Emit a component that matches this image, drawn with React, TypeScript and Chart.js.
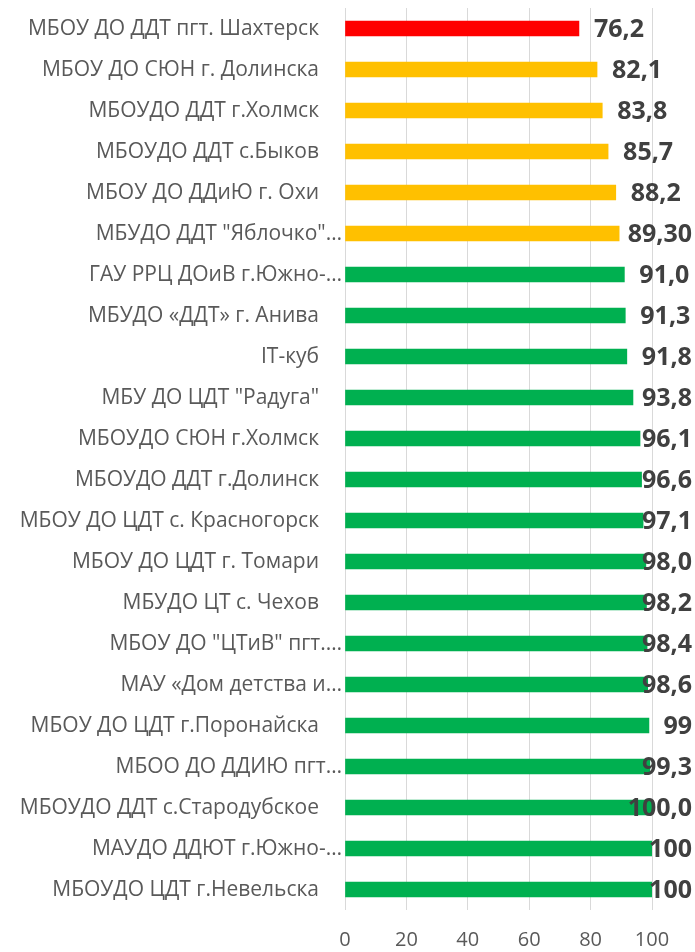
import React, { useEffect, useRef } from "react";
import { Chart, registerables } from "chart.js";

Chart.register(...registerables);

const categories: string[] = [
  "МБОУ ДО ДДТ пгт. Шахтерск",
  "МБОУ ДО СЮН г. Долинска",
  "МБОУДО ДДТ г.Холмск",
  "МБОУДО ДДТ с.Быков",
  "МБОУ ДО ДДиЮ г. Охи",
  "МБУДО ДДТ \"Яблочко\"…",
  "ГАУ РРЦ ДОиВ г.Южно-…",
  "МБУДО «ДДТ» г. Анива",
  "IT-куб",
  "МБУ ДО ЦДТ \"Радуга\"",
  "МБОУДО СЮН г.Холмск",
  "МБОУДО ДДТ г.Долинск",
  "МБОУ ДО ЦДТ с. Красногорск",
  "МБОУ ДО ЦДТ г. Томари",
  "МБУДО ЦТ с. Чехов",
  "МБОУ ДО \"ЦТиВ\" пгт.…",
  "МАУ «Дом детства и…",
  "МБОУ ДО ЦДТ г.Поронайска",
  "МБОО ДО ДДИЮ пгт…",
  "МБОУДО ДДТ с.Стародубское",
  "МАУДО ДДЮТ г.Южно-…",
  "МБОУДО ЦДТ г.Невельска",
];

const values: number[] = [
  76.2, 82.1, 83.8, 85.7, 88.2, 89.3, 91.0, 91.3, 91.8, 93.8, 96.1, 96.6, 97.1,
  98.0, 98.2, 98.4, 98.6, 99, 99.3, 100.0, 100, 100,
];

const valueLabels: string[] = [
  "76,2", "82,1", "83,8", "85,7", "88,2", "89,30", "91,0", "91,3", "91,8",
  "93,8", "96,1", "96,6", "97,1", "98,0", "98,2", "98,4", "98,6", "99",
  "99,3", "100,0", "100", "100",
];

const RED = "#FF0000";
const YELLOW = "#FFC000";
const GREEN = "#00B050";
const barColors: string[] = [
  RED, YELLOW, YELLOW, YELLOW, YELLOW, YELLOW,
  GREEN, GREEN, GREEN, GREEN, GREEN, GREEN, GREEN, GREEN, GREEN, GREEN,
  GREEN, GREEN, GREEN, GREEN, GREEN, GREEN,
];

const xTicks: number[] = [0, 20, 40, 60, 80, 100];

const FONT = "'Open Sans', 'Noto Sans', sans-serif";

const labelsPlugin = {
  id: "customLabels",
  afterDatasetsDraw(chart: any) {
    const ctx = chart.ctx;
    const yScale = chart.scales.y;
    const meta = chart.getDatasetMeta(0);
    ctx.save();
    // category labels
    ctx.font = `21px ${FONT}`;
    ctx.fillStyle = "#595959";
    ctx.textAlign = "right";
    ctx.textBaseline = "middle";
    categories.forEach((c, i) => {
      const y = yScale.getPixelForValue(i);
      const truncated = c.endsWith("…");
      const xr = chart.chartArea.left - (truncated ? 3 : 26);
      ctx.fillText(c, xr, y + 1);
    });
    // value labels
    ctx.font = `bold 25px ${FONT}`;
    ctx.fillStyle = "#404040";
    ctx.textAlign = "left";
    meta.data.forEach((bar: any, i: number) => {
      const t = valueLabels[i];
      const w = ctx.measureText(t).width;
      let x = bar.x + 15;
      const maxRight = chart.width - 3;
      if (x + w > maxRight) x = maxRight - w;
      ctx.fillText(t, x, bar.y + 1);
    });
    ctx.restore();
  },
};

export default function App() {
  const ref = useRef<HTMLCanvasElement | null>(null);
  useEffect(() => {
    if (!ref.current) return;
    const chart = new Chart(ref.current, {
      type: "bar",
      data: {
        labels: categories,
        datasets: [
          {
            data: values,
            backgroundColor: barColors,
            borderWidth: 0,
            barThickness: 15,
          },
        ],
      },
      options: {
        indexAxis: "y",
        animation: false,
        responsive: false,
        maintainAspectRatio: false,
        layout: { padding: { left: 345, right: 43, top: 8, bottom: 0 } },
        plugins: {
          legend: { display: false },
          tooltip: { enabled: false },
        },
        scales: {
          x: {
            min: 0,
            max: 100,
            afterBuildTicks: (scale: any) => {
              scale.ticks = xTicks.map((v) => ({ value: v }));
            },
            afterFit: (scale: any) => {
              scale.height = 42;
            },
            grid: {
              color: "#D9D9D9",
              lineWidth: 1,
              drawTicks: false,
            },
            border: { display: false },
            ticks: {
              color: "#595959",
              font: { family: FONT, size: 20 },
              padding: 18,
            },
          },
          y: {
            display: false,
          },
        },
      },
      plugins: [labelsPlugin],
    });
    return () => chart.destroy();
  }, []);
  return (
    <div style={{ position: "fixed", left: 0, top: 0, width: 695, height: 952, background: "#fff" }}>
      <canvas ref={ref} width={695} height={952} style={{ width: 695, height: 952 }} />
    </div>
  );
}
